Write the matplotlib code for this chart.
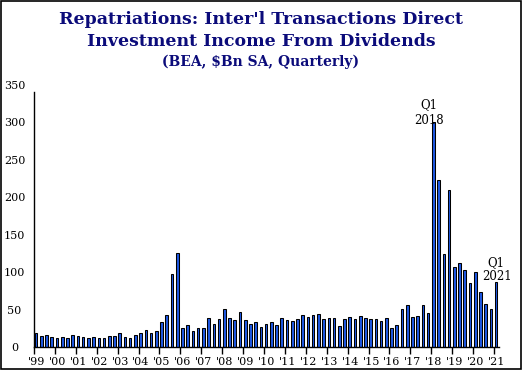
import matplotlib
matplotlib.use("Agg")
import matplotlib.pyplot as plt
from matplotlib.patches import Rectangle
import matplotlib.transforms as mtrans

# Quarterly data, 1999 Q1 .. 2021 Q1 ($Bn SA)
years = [str(y) for y in range(1999, 2022)]
values = [
    19, 15, 16.5, 14,        # 1999
    12.5, 14, 12.5, 16.5,    # 2000
    15, 14, 12.5, 14,        # 2001
    12.5, 12.5, 15, 15,      # 2002
    18.5, 13.5, 12, 16,      # 2003
    19, 23, 19, 21.5,        # 2004
    33.5, 43, 98, 126,       # 2005
    25.5, 29.5, 21.5, 25.5,  # 2006
    25.5, 39, 31, 37.5,      # 2007
    51, 39, 36, 47,          # 2008
    36, 31, 33.5, 27,        # 2009
    31, 33.5, 29.5, 39,      # 2010
    36, 35, 37.5, 43,        # 2011
    40, 43, 44, 37.5,        # 2012
    39, 39, 28, 37.5,        # 2013
    40, 37.5, 41.5, 39,      # 2014
    37.5, 37.5, 35, 39,      # 2015
    25.5, 29.5, 51, 56,      # 2016
    40, 41.5, 56, 45.5,      # 2017
    300, 223, 124, 210,      # 2018
    107, 112, 103, 86,       # 2019
    100, 73.5, 57.5, 51,     # 2020
    87,                      # 2021 Q1
]
yticks = [0, 50, 100, 150, 200, 250, 300, 350]
xlabels = ["'" + y[2:] for y in years]

W, H = 529, 373
fig = plt.figure(figsize=(W / 100, H / 100), dpi=100)
ax = fig.add_axes([34 / W, 1 - 347 / H, (499 - 34) / W, (347 - 85) / H])

x = list(range(len(values)))
ax.bar(x, values, width=0.5, color="#1f58e2", edgecolor="black", linewidth=0.75, zorder=2)

ax.set_xlim(-0.4, 88.55)
ax.set_ylim(0, 350)

for s in ["top", "right"]:
    ax.spines[s].set_visible(False)
ax.spines["left"].set_bounds(0, 340)
ax.spines["left"].set_linewidth(1.0)
ax.spines["bottom"].set_linewidth(1.0)

ax.set_yticks(yticks)
ax.set_yticklabels([str(v) for v in yticks])
ax.tick_params(axis="y", length=0, pad=14, labelsize=8)
for lab in ax.get_yticklabels():
    lab.set_fontfamily("DejaVu Serif")
    lab.set_horizontalalignment("center")

xt = [4 * i - 0.4 for i in range(len(years))]
ax.set_xticks(xt)
ax.set_xticklabels(xlabels)
ax.tick_params(axis="x", length=5, width=1.0, direction="out", pad=2, labelsize=8)
off = mtrans.ScaledTranslation(2.5 / 100, 0, fig.dpi_scale_trans)
for lab in ax.get_xticklabels():
    lab.set_fontfamily("DejaVu Serif")
    lab.set_transform(lab.get_transform() + off)

# annotations
def px2x(px):
    return (px - 34) / (499 - 34) * (88.55 + 0.4) - 0.4

def py2y(py):
    return (347 - py) / (347 - 85) * 350

ann_kw = dict(ha="center", va="center", fontsize=8.5, family="DejaVu Serif", color="black", zorder=3)
ax.text(px2x(429), py2y(105), "Q1", **ann_kw)
ax.text(px2x(429), py2y(121), "2018", **ann_kw)
ax.text(px2x(496), py2y(263), "Q1", clip_on=False, **ann_kw)
ax.text(px2x(497), py2y(277), "2021", clip_on=False, **ann_kw)

navy = "#0b0b7a"
fig.text(261 / W, 1 - 20 / H, "Repatriations: Inter'l Transactions Direct", ha="center", va="center",
         fontsize=12.5, fontweight="bold", family="DejaVu Serif", color=navy)
fig.text(261 / W, 1 - 42 / H, "Investment Income From Dividends", ha="center", va="center",
         fontsize=12.5, fontweight="bold", family="DejaVu Serif", color=navy)
fig.text(261 / W, 1 - 62 / H, "(BEA, $Bn SA, Quarterly)", ha="center", va="center",
         fontsize=10, fontweight="bold", family="DejaVu Serif", color=navy)

fig.patches.append(Rectangle((0.5 / W, 1 - 369 / H), 520.5 / W, (368.5) / H, transform=fig.transFigure,
                             fill=False, edgecolor="black", linewidth=1.2))

fig.savefig("out.png", dpi=100)
